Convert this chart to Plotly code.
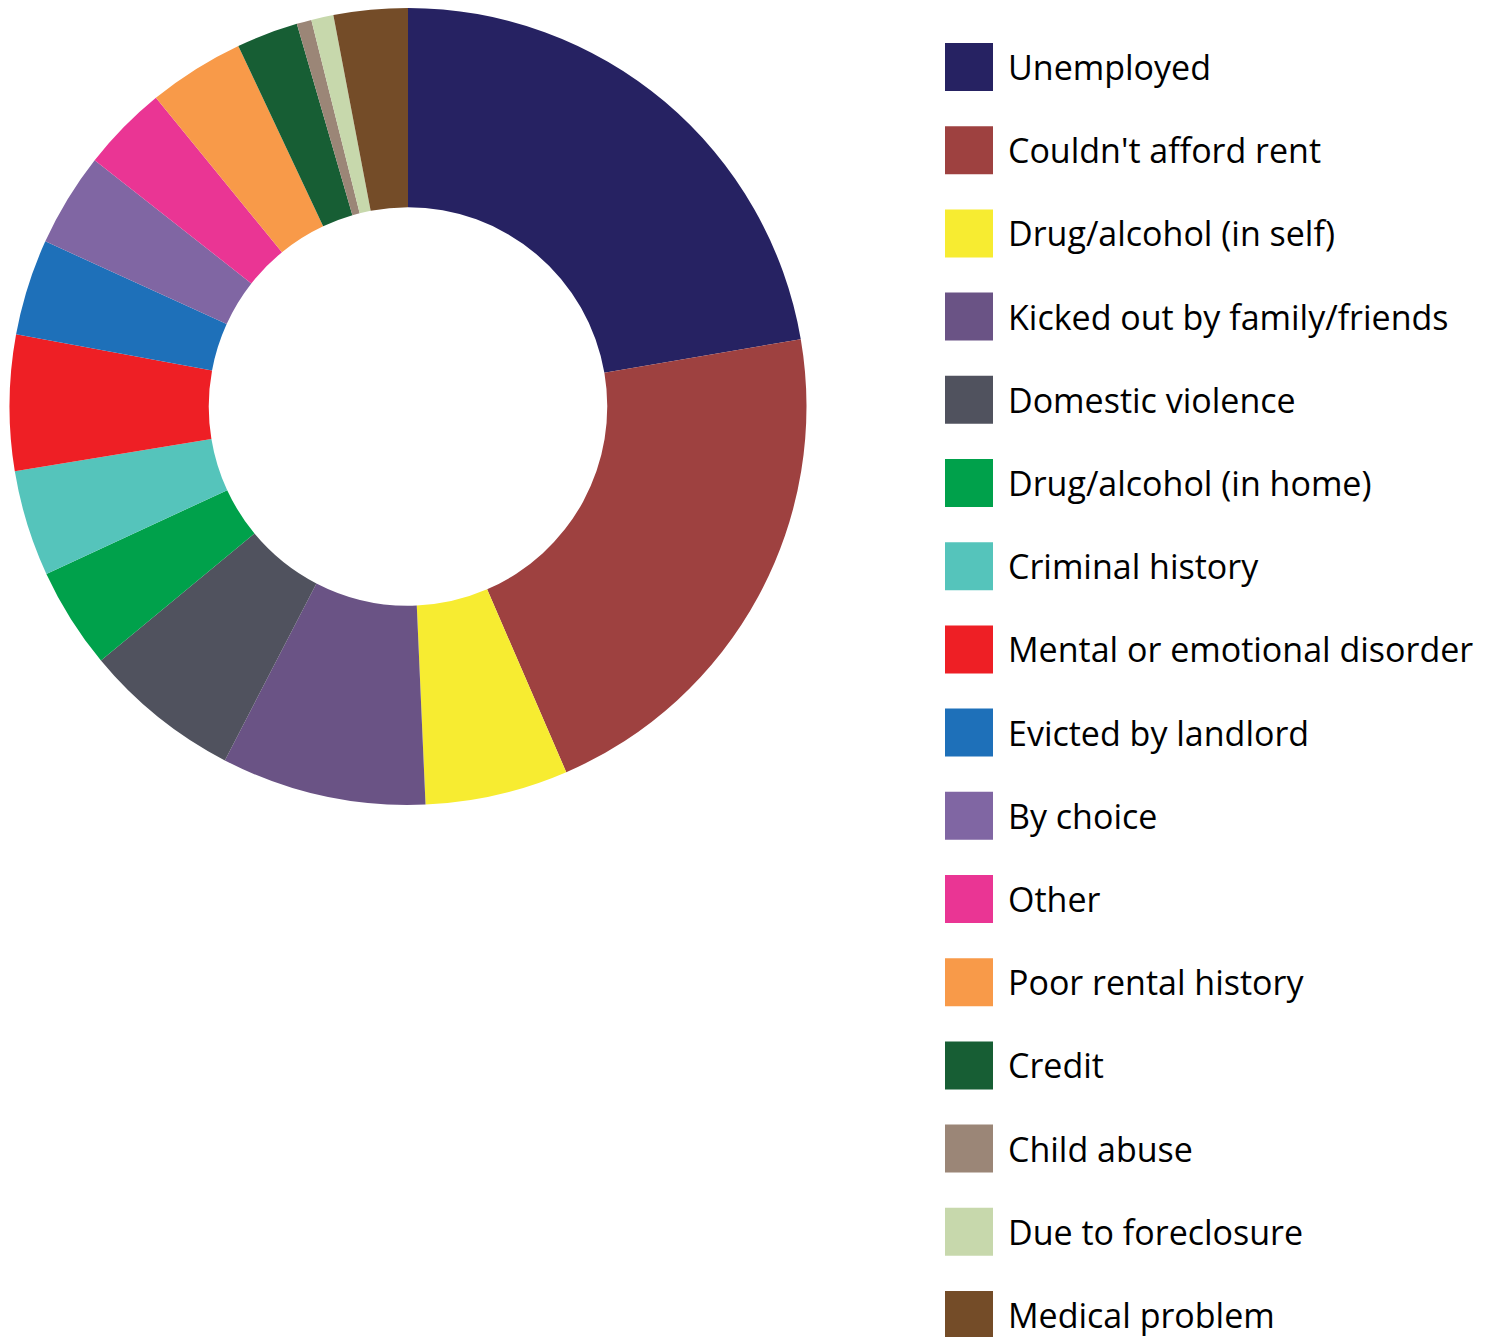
import plotly.graph_objects as go

# ── Dados ─────────────────────────────────────────────────────────────────────
labels = ["Unemployed", "Couldn't afford rent", "Drug/alcohol (in self)",
          "Kicked out by family/friends", "Domestic violence",
          "Drug/alcohol (in home)", "Criminal history",
          "Mental or emotional disorder", "Evicted by landlord", "By choice",
          "Other", "Poor rental history", "Credit", "Child abuse",
          "Due to foreclosure", "Medical problem"]
values = [22.3, 21.2, 5.8, 8.3, 6.4, 4.1, 4.3, 5.5, 3.9, 3.8,
          3.5, 3.9, 2.5, 0.6, 0.9, 3.0]
colors = ["#262262", "#9e4140", "#f7ec31", "#6a5385", "#50525e", "#00a14b",
          "#55c4bb", "#ee1f25", "#1e70b9", "#8066a3", "#ea3594", "#f89a49",
          "#175e34", "#9b8677", "#c7d8ac", "#744c28"]

# a página tem margem de 8 px: trabalhar em coordenadas já deslocadas
OFF = 8
W, H = 1494 - OFF, 1337 - OFF
FONT = "Open Sans"


def px(x):
    return (x - OFF) / W


def py(y):
    return min(1.0, 1 - (y - OFF) / H)


fig = go.Figure(go.Pie(
    labels=labels, values=values, sort=False, direction="clockwise",
    rotation=0, hole=0.5, textinfo="none", hoverinfo="label+value",
    marker=dict(colors=colors, line=dict(width=0)),
    domain=dict(x=[px(9), px(807)], y=[py(805), 1.0]),
    showlegend=False,
))

# legenda manual: quadrados grandes como no original
y0, step, box = 67, 83.2, 48
for i, (lab, col) in enumerate(zip(labels, colors)):
    yc = y0 + i * step
    fig.add_shape(type="rect", xref="paper", yref="paper",
                  x0=px(945), x1=px(945 + box),
                  y0=py(yc + box / 2), y1=py(yc - box / 2),
                  fillcolor=col, line=dict(width=0))
    fig.add_annotation(text=lab, xref="paper", yref="paper",
                       x=px(1006), y=py(yc), xanchor="left", yanchor="middle",
                       showarrow=False, font=dict(family=FONT, size=34, color="black"))

fig.update_layout(width=W, height=H, margin=dict(l=0, r=0, t=0, b=0),
                  paper_bgcolor="white", plot_bgcolor="white")
fig.write_html("out.html")
